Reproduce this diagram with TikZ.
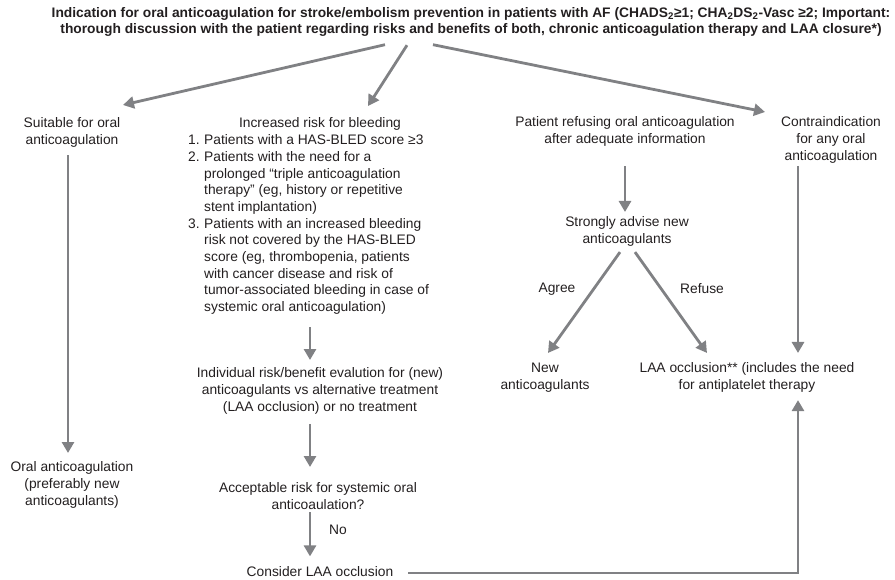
\documentclass[tikz,border=0pt]{standalone}
\usepackage{fontspec}
\setmainfont{Liberation Sans}
\usetikzlibrary{arrows.meta}
\definecolor{txtc}{RGB}{35,31,32}
\definecolor{arrc}{RGB}{128,129,132}
\newcommand{\bodyfs}{\fontsize{13.8}{16.7}\selectfont}
\newcommand{\titlefs}{\fontsize{13.8}{16}\selectfont\bfseries}
\newcommand{\tl}[1]{\begin{tabular}{@{}c@{}}#1\end{tabular}}
\begin{document}
\begin{tikzpicture}[x=1pt,y=-1pt,
  txt/.style={font=\bodyfs, text=txtc, inner sep=0pt},
  arr/.style={draw=arrc, line width=2.8pt, -{Triangle[length=11pt,width=12pt]}}]
\useasboundingbox (0,0) rectangle (895,580);

\node[txt, font=\titlefs, anchor=north] (title) at (471,5.8)
 {\tl{Indication for oral anticoagulation for stroke/embolism prevention in patients with AF (CHADS\textsubscript{2}≥1; CHA\textsubscript{2}DS\textsubscript{2}-Vasc ≥2; Important:\\
  thorough discussion with the patient regarding risks and benefits of both, chronic anticoagulation therapy and LAA closure*)}};

\node[txt, anchor=north] (suit) at (72,115.8) {\tl{Suitable for oral\\anticoagulation}};
\node[txt, anchor=north] (bhead) at (320,115.8) {\tl{Increased risk for bleeding}};
\node[txt, anchor=north west] (blist) at (188,132.8) {%
\begin{tabular}{@{}p{16pt}@{}l@{}}
1. & Patients with a HAS-BLED score ≥3\\
2. & Patients with the need for a\\
   & prolonged “triple anticoagulation\\
   & therapy” (eg, history or repetitive\\
   & stent implantation)\\
3. & Patients with an increased bleeding\\
   & risk not covered by the HAS-BLED\\
   & score (eg, thrombopenia, patients\\
   & with cancer disease and risk of\\
   & tumor-associated bleeding in case of\\
   & systemic oral anticoagulation)
\end{tabular}};
\node[txt, anchor=north] (refusing) at (625,114.8) {\tl{Patient refusing oral anticoagulation\\after adequate information}};
\node[txt, anchor=north] (contra) at (831,114.8) {\tl{Contraindication\\for any oral\\anticoagulation}};
\node[txt, anchor=north] (strong) at (627,214.8) {\tl{Strongly advise new\\anticoagulants}};
\node[txt, anchor=north] (newac) at (545,360.8) {\tl{New\\anticoagulants}};
\node[txt, anchor=north] (laa) at (747,360.8) {\tl{LAA occlusion** (includes the need\\for antiplatelet therapy}};
\node[txt, anchor=north] (indiv) at (320,365.8) {\tl{Individual risk/benefit evalution for (new)\\anticoagulants vs alternative treatment\\(LAA occlusion) or no treatment}};
\node[txt, anchor=north] (accept) at (318,480.8) {\tl{Acceptable risk for systemic oral\\anticoaulation?}};
\node[txt, anchor=base] (consider) at (320,576) {Consider LAA occlusion};
\node[txt, anchor=north] (oral) at (72,459.8) {\tl{Oral anticoagulation\\(preferably new\\anticoagulants)}};
\node[txt] (agree) at (557,289) {Agree};
\node[txt] (refuse) at (702,289) {Refuse};
\node[txt] (no) at (338,530) {No};

\coordinate (lx) at (68,0);
\coordinate (bx) at (310,0);
\coordinate (rx) at (625,0);
\coordinate (cx) at (798,0);

\draw[arr] ([xshift=-86pt,yshift=-6.5pt]title.south) -- ([xshift=51pt,yshift=10.8pt]suit.north);
\draw[arr] ([xshift=-64pt,yshift=-7pt]title.south) -- ([xshift=48pt,yshift=9.8pt]bhead.north);
\draw[arr] ([xshift=-38pt,yshift=-6.5pt]title.south) -- ([xshift=-66pt,yshift=2.8pt]contra.north);
\draw[arr, shorten <=5.5pt, shorten >=6.8pt] (suit.south -| lx) -- (oral.north -| lx);
\draw[arr, shorten <=10.5pt, shorten >=5.8pt] (blist.south -| bx) -- (indiv.north -| bx);
\draw[arr, shorten <=7.5pt, shorten >=13.8pt] (indiv.south -| bx) -- (accept.north -| bx);
\draw[arr, shorten <=-2.5pt, shorten >=9.4pt] (accept.south -| bx) -- (consider.north -| bx);
\draw[arr, shorten <=15pt, shorten >=5.5pt] ([yshift=-2pt]consider.east) -| (laa.south -| cx);
\draw[arr, shorten <=0.5pt, shorten >=7.8pt] (contra.south -| cx) -- (laa.north -| cx);
\draw[arr, shorten <=17.5pt, shorten >=2.8pt] (refusing.south -| rx) -- (strong.north -| rx);
\draw[arr] ([xshift=-7pt,yshift=-3.5pt]strong.south) -- ([xshift=3pt,yshift=7.8pt]newac.north);
\draw[arr] ([xshift=8pt,yshift=-3.5pt]strong.south) -- ([xshift=-40pt,yshift=7.8pt]laa.north);
\end{tikzpicture}
\end{document}
